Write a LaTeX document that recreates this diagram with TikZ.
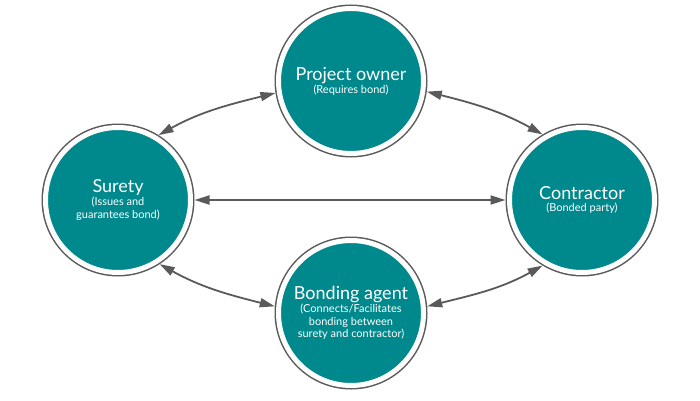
\documentclass[tikz,border=0pt]{standalone}
\usepackage{fontspec}
\setmainfont{Lato}
\usepackage{tikz}
\usetikzlibrary{arrows.meta}
\definecolor{bondteal}{HTML}{00898D}
\definecolor{ringgray}{HTML}{5A5A5A}

\begin{document}
\begin{tikzpicture}[x=1pt,y=1pt]
		\tikzstyle{PartyStyle}=[circle,minimum size=145pt,inner sep=0pt,outer sep=4pt,
			fill=bondteal,draw=white,line width=5pt,
			preaction={draw=ringgray,line width=8pt},
			text=white,align=center,font=\fontsize{11}{12.8}\selectfont]
		\tikzstyle{EdgeStyle}=[draw=ringgray,line width=1.8pt,
			{Triangle[length=15pt,width=9pt]}-{Triangle[length=15pt,width=9pt]}]
		\useasboundingbox (0,0) rectangle (700,400);
		% parties
		\node[PartyStyle] (owner) at (351,319)
			{{\fontsize{18}{20}\selectfont Project owner}\\(Requires bond)};
		\node[PartyStyle] (surety) at (118,200)
			{{\fontsize{18}{20}\selectfont Surety}\\(Issues and\\guarantees bond)};
		\node[PartyStyle] (contractor) at (582,200)
			{{\fontsize{18}{20}\selectfont Contractor}\\(Bonded party)};
		\node[PartyStyle] (agent) at (351,87)
			{{\fontsize{18}{20}\selectfont Bonding agent}\\(Connects/Facilitates\\bonding between\\surety and contractor)};
		% links
		\draw[EdgeStyle] (surety.58) to[out=29,in=194] (owner.189);
		\draw[EdgeStyle] (owner.-8) to[out=-14,in=151] (contractor.121);
		\draw[EdgeStyle] (surety) -- (contractor);
		\draw[EdgeStyle] (surety.-57) to[out=-29,in=166] (agent.175);
		\draw[EdgeStyle] (agent.5) to[out=14,in=209] (contractor.239);
	\end{tikzpicture}
\end{document}
